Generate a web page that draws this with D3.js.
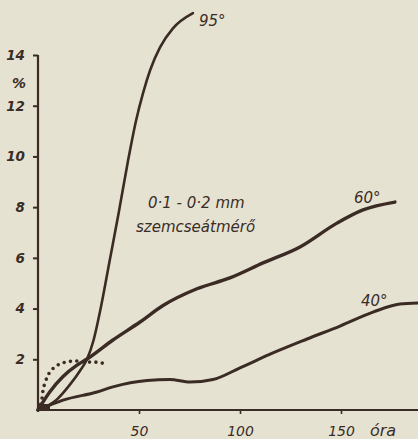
<!DOCTYPE html>
<html><head><meta charset="utf-8">
<script src="https://cdn.jsdelivr.net/npm/d3@7"></script>
<style>
html,body{margin:0;padding:0;background:#e6e2d1;}
svg{display:block;}
text{font-family:"DejaVu Sans",sans-serif;font-style:italic;fill:#3a2d27;}
</style></head>
<body>
<div id="chart"></div>
<script>
// hours, percent
const hours95 = [0, 9.4, 15.8, 20.8, 24.3, 27.5, 31.0, 35.5, 40.0, 44.5, 48.5, 52.0, 55.5, 60.4, 66.8, 76.7];
const values95 = [0, 0.42, 1.0, 1.55, 2.01, 2.75, 4.0, 5.9, 7.8, 9.8, 11.4, 12.5, 13.4, 14.3, 15.05, 15.65];
const hours60 = [0, 5.9, 12.4, 19.3, 24.3, 37.1, 50.5, 61.9, 78.7, 95.0, 111.4, 129.7, 148.0, 160.9, 176.7];
const values60 = [0, 0.72, 1.32, 1.77, 2.01, 2.76, 3.47, 4.12, 4.78, 5.21, 5.80, 6.43, 7.37, 7.89, 8.20];
const hours40 = [0, 12.4, 29.2, 37.1, 54.0, 65.3, 75.2, 86.6, 100, 116.3, 133.2, 149.5, 165.8, 179.2, 188.1];
const values40 = [0, 0.39, 0.71, 0.91, 1.16, 1.20, 1.10, 1.20, 1.66, 2.25, 2.80, 3.31, 3.86, 4.18, 4.22];
const hoursDot = [0, 2.0, 2.5, 3.5, 4.5, 6.4, 8.9, 11.9, 14.4, 17.3, 20.8, 24.3, 28.2, 31.2, 34.2];
const valuesDot = [0, 0.47, 0.79, 1.06, 1.30, 1.54, 1.73, 1.85, 1.89, 1.93, 1.93, 1.89, 1.89, 1.85, 1.85];
const yTicks = [2, 4, 6, 8, 10, 12, 14];
const xTicks = [50, 100, 150];
const curveLabels = ["95°", "60°", "40°"];
const xUnit = "óra";
const yUnit = "%";
const noteLines = ["0·1 - 0·2 mm", "szemcseátmérő"];

const W = 418, H = 439;
const ink = "#3a2b24";
const svg = d3.select("#chart").append("svg").attr("width", W).attr("height", H);
svg.append("rect").attr("width", W).attr("height", H).attr("fill", "#e6e2d1");

const x = d3.scaleLinear().domain([0, 150]).range([38, 341]);
const y = d3.scaleLinear().domain([0, 14]).range([410, 55]);

// axes
const yAxis = svg.append("g").attr("transform", `translate(${x(0)},0)`)
  .call(d3.axisLeft(y).tickValues(yTicks).tickSize(5).tickPadding(8).tickFormat(d3.format("d")));
yAxis.select(".domain").remove();
yAxis.selectAll(".tick line").attr("stroke", ink).attr("stroke-width", 2);
yAxis.selectAll(".tick text").attr("font-size", 13.5).attr("font-weight", "bold").attr("fill", ink).style("font-family", '"DejaVu Sans",sans-serif').style("font-style", "italic");
svg.append("line").attr("x1", x(0)).attr("x2", x(0)).attr("y1", y(0)).attr("y2", y(14))
  .attr("stroke", ink).attr("stroke-width", 2.2);

const xAxis = svg.append("g").attr("transform", `translate(0,${y(0)})`)
  .call(d3.axisBottom(x).tickValues(xTicks).tickSize(4).tickPadding(12).tickFormat(d3.format("d")));
xAxis.select(".domain").remove();
xAxis.selectAll(".tick line").attr("stroke", ink).attr("stroke-width", 1.6);
xAxis.selectAll(".tick text").attr("font-size", 14).attr("fill", ink).style("font-family", '"DejaVu Sans",sans-serif').style("font-style", "italic");
svg.append("line").attr("x1", x(0)).attr("x2", W).attr("y1", y(0)).attr("y2", y(0))
  .attr("stroke", ink).attr("stroke-width", 2);

svg.append("text").attr("x", 370).attr("y", 436).attr("font-size", 16).text(xUnit);
svg.append("text").attr("x", 12).attr("y", 88).attr("font-size", 14).attr("font-weight", "bold").text(yUnit);

const line = d3.line().x(d => x(d[0])).y(d => y(d[1])).curve(d3.curveMonotoneX);
const series = [
  [hours95, values95, 2.6],
  [hours60, values60, 3.4],
  [hours40, values40, 3.0]
];
series.forEach(([hs, vs, w]) => {
  svg.append("path").datum(hs.map((h, i) => [h, vs[i]]))
    .attr("d", line).attr("fill", "none").attr("stroke", ink)
    .attr("stroke-width", w).attr("stroke-linecap", "round");
});
svg.append("path").datum(hoursDot.map((h, i) => [h, valuesDot[i]]))
  .attr("d", line).attr("fill", "none").attr("stroke", ink)
  .attr("stroke-width", 3.6).attr("stroke-linecap", "round").attr("stroke-dasharray", "0 6.4");

// dark blob at origin
svg.append("rect").attr("x", x(0)).attr("y", y(0) - 6).attr("width", 12).attr("height", 6).attr("fill", ink);

// curve labels
const labelXY = [[199, 26], [354, 203], [361, 306]];
curveLabels.forEach((t, i) => {
  svg.append("text").attr("x", labelXY[i][0]).attr("y", labelXY[i][1])
    .attr("font-size", 15).text(t);
});

svg.append("text").attr("x", 148).attr("y", 208).attr("font-size", 15).text(noteLines[0]);
svg.append("text").attr("x", 136).attr("y", 232).attr("font-size", 15).text(noteLines[1]);
</script>
</body></html>
